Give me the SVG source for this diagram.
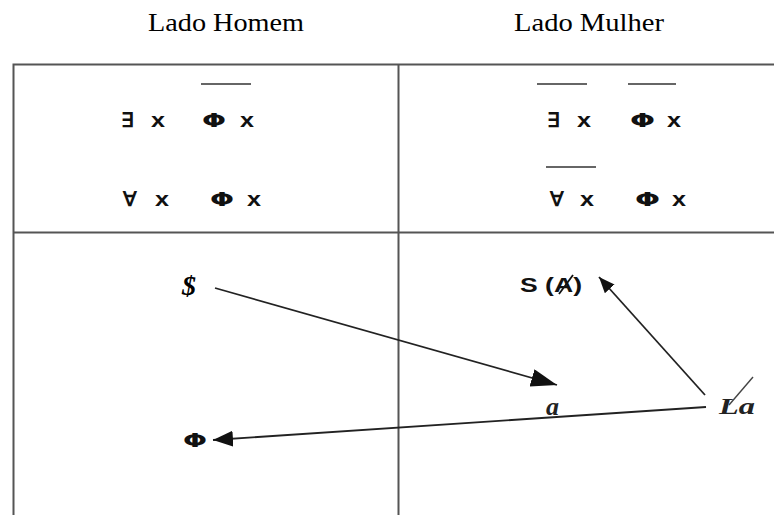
<svg xmlns="http://www.w3.org/2000/svg" width="774" height="515" viewBox="0 0 774 515">
<defs>
<style>
.title{font-family:"Liberation Serif",serif;font-size:25px;fill:#000}
.sym{font-family:"Liberation Sans",sans-serif;font-size:20px;font-weight:bold;fill:#111}
.phi{font-family:"DejaVu Sans",sans-serif;font-size:19px;font-weight:bold;fill:#111}
.ital{font-family:"Liberation Serif",serif;font-style:italic;font-weight:bold;font-size:24px;fill:#222}
.frame{stroke:#555;stroke-width:2;fill:none}
.bar{stroke:#666;stroke-width:2}
.conn{stroke:#222;stroke-width:1.8;fill:none}
</style>
<marker id="ah" markerUnits="userSpaceOnUse" markerWidth="28" markerHeight="20" refX="26" refY="9" orient="auto">
<path d="M0,0 L26,9 L0,18 z" fill="#111"/>
</marker>
<marker id="ahm" markerUnits="userSpaceOnUse" markerWidth="22" markerHeight="18" refX="20" refY="8" orient="auto">
<path d="M0,0 L20,8 L0,16 z" fill="#111"/>
</marker>
<marker id="ahs" markerUnits="userSpaceOnUse" markerWidth="18" markerHeight="14" refX="16" refY="6.5" orient="auto">
<path d="M0,0 L16,6.5 L0,13 z" fill="#111"/>
</marker>
</defs>
<rect width="774" height="515" fill="#fff"/>
<g id="titles">
<text class="title" x="226" y="31" text-anchor="middle" textLength="156" lengthAdjust="spacingAndGlyphs">Lado Homem</text>
<text class="title" x="589" y="31" text-anchor="middle" textLength="150" lengthAdjust="spacingAndGlyphs">Lado Mulher</text>
</g>
<g id="frame">
<path class="frame" d="M13.5,515 V64.5 H774"/>
<line class="frame" x1="398.5" y1="64.5" x2="398.5" y2="515"/>
<line class="frame" x1="13.5" y1="232.5" x2="774" y2="232.5"/>
</g>
<g id="homem-top">
<text class="sym" x="121" y="127">∃</text><text class="sym" x="151" y="127" textLength="14" lengthAdjust="spacingAndGlyphs">x</text>
<line class="bar" x1="201" y1="84" x2="251" y2="84"/>
<text class="phi" x="202" y="127" textLength="24" lengthAdjust="spacingAndGlyphs">Φ</text><text class="sym" x="240" y="127" textLength="14" lengthAdjust="spacingAndGlyphs">x</text>
<text class="sym" x="123" y="206">∀</text><text class="sym" x="155" y="206" textLength="14" lengthAdjust="spacingAndGlyphs">x</text>
<text class="phi" x="210" y="206" textLength="24" lengthAdjust="spacingAndGlyphs">Φ</text><text class="sym" x="247" y="206" textLength="14" lengthAdjust="spacingAndGlyphs">x</text>
</g>
<g id="mulher-top">
<line class="bar" x1="537" y1="84" x2="587" y2="84"/>
<text class="sym" x="547" y="127">∃</text><text class="sym" x="577" y="127" textLength="14" lengthAdjust="spacingAndGlyphs">x</text>
<line class="bar" x1="628" y1="84" x2="676" y2="84"/>
<text class="phi" x="630" y="127" textLength="25" lengthAdjust="spacingAndGlyphs">Φ</text><text class="sym" x="667" y="127" textLength="14" lengthAdjust="spacingAndGlyphs">x</text>
<line class="bar" x1="546" y1="167" x2="596" y2="167"/>
<text class="sym" x="550" y="206">∀</text><text class="sym" x="580" y="206" textLength="14" lengthAdjust="spacingAndGlyphs">x</text>
<text class="phi" x="635" y="206" textLength="25" lengthAdjust="spacingAndGlyphs">Φ</text><text class="sym" x="672" y="206" textLength="14" lengthAdjust="spacingAndGlyphs">x</text>
</g>
<g id="node-S">
<text class="ital" x="182" y="295" style="font-size:28px;fill:#000">$</text>
</g>
<g id="node-SA">
<text class="sym" x="520" y="292" textLength="62" lengthAdjust="spacingAndGlyphs">S (A)</text>
<line x1="559" y1="294" x2="573" y2="275" stroke="#111" stroke-width="1.8"/>
</g>
<g id="node-a">
<text class="ital" x="546" y="415" style="font-size:26px">a</text>
</g>
<g id="node-La">
<text class="ital" x="719" y="414" textLength="36" lengthAdjust="spacingAndGlyphs">La</text>
<line x1="729" y1="405" x2="753" y2="377" stroke="#444" stroke-width="1.4"/>
</g>
<g id="node-Phi">
<text class="phi" x="183" y="447" textLength="24" lengthAdjust="spacingAndGlyphs">Φ</text>
</g>
<g id="connectors">
<line class="conn" x1="215" y1="288" x2="557" y2="385" marker-end="url(#ah)"/>
<line class="conn" x1="705" y1="395" x2="599" y2="277" marker-end="url(#ahs)"/>
<line class="conn" x1="706" y1="407" x2="213" y2="440" marker-end="url(#ahm)"/>
</g>
</svg>
